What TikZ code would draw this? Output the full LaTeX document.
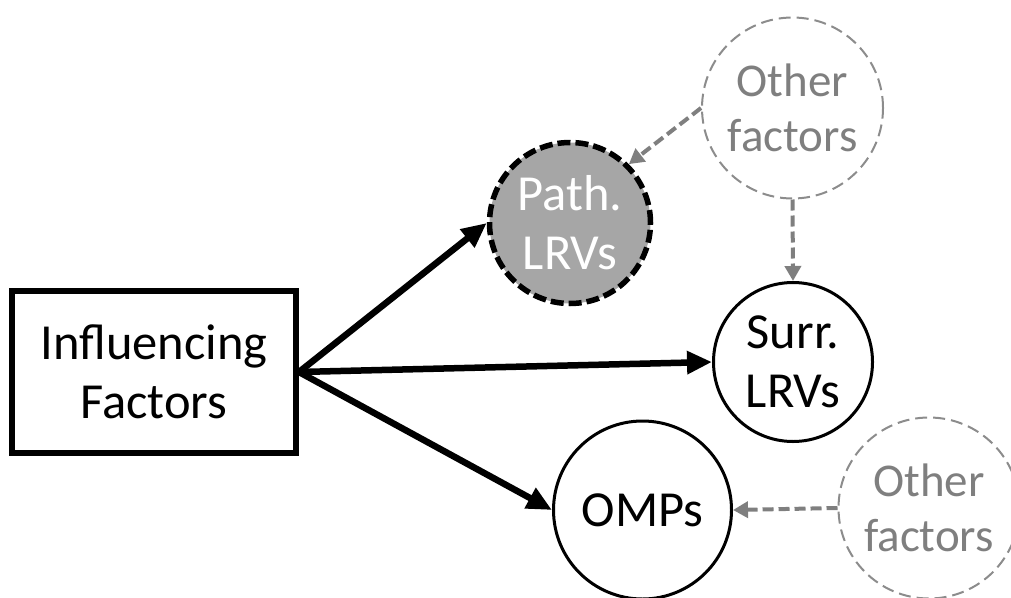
\documentclass[tikz,border=0pt]{standalone}
\usepackage{fontspec}
\setmainfont{Carlito}
\usetikzlibrary{arrows.meta}
\definecolor{pathfill}{HTML}{A6A6A6}
\definecolor{othergray}{HTML}{7F7F7F}
\definecolor{ringgray}{HTML}{8C8C8C}
\begin{document}
\begin{tikzpicture}[x=1pt,y=-1pt,
  bigfont/.style={font=\fontsize{50.5}{59}\selectfont},
  smallfont/.style={font=\fontsize{47}{55}\selectfont},
  sourcebox/.style={draw, line width=6pt, minimum width=284pt, minimum height=162pt,
    inner sep=0pt, align=center, bigfont},
  lrv/.style={circle, draw, line width=3pt, inner sep=0pt, align=center, bigfont},
  pathlrv/.style={circle, draw, fill=pathfill, text=white, line width=5.5pt,
    dash pattern=on 13pt off 5pt, inner sep=0pt, align=center, bigfont},
  otherring/.style={circle, draw=ringgray, text=othergray, line width=2pt,
    dash pattern=on 12pt off 6pt, inner sep=0pt, align=center, smallfont,
    minimum size=181pt},
  mainarrow/.style={line width=6.5pt, -{Triangle[length=25pt,width=22pt]}},
  sidearrow/.style={draw=othergray, line width=4pt, dash pattern=on 11pt off 5pt,
    -{Triangle[length=15pt,width=16pt]}}
]
\useasboundingbox (0,0) rectangle (1011,597);

% source and outcome nodes
\node[sourcebox] (infl) at (154,372) {Influencing\\Factors};
\node[pathlrv, minimum size=161pt] (path) at (570,223) {Path.\\LRVs};
\node[lrv, minimum size=159pt] (surr) at (793,362) {Surr.\\LRVs};
\node[lrv, minimum size=178pt, text depth=0pt] (omps) at (642.5,510) {OMPs};

% external influences
\node[otherring] (othtop) at (792.5,108) {Other\\factors};
\node[otherring] (othbot) at (929,508) {Other\\factors};

% main effects
\draw[mainarrow] (infl.east) -- (path.west);
\draw[mainarrow] (infl.east) -- (surr.west);
\draw[mainarrow] (infl.east) -- (omps.west);

% other influences
\draw[sidearrow] (othtop.west) -- (path.45);
\draw[sidearrow] (othtop.south) -- (surr.north);
\draw[sidearrow] (othbot.west) -- (omps.east);
\end{tikzpicture}
\end{document}
